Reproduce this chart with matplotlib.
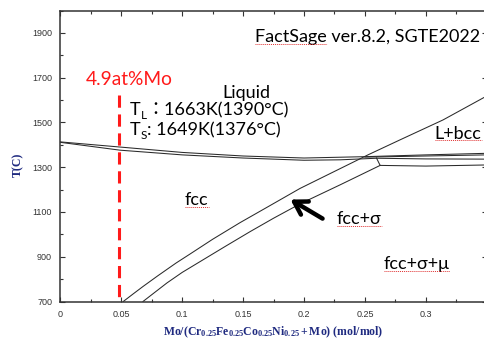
import matplotlib
matplotlib.use("Agg")
import matplotlib.pyplot as plt
from matplotlib.ticker import MultipleLocator, FixedLocator
from matplotlib.lines import Line2D

plt.rcParams['mathtext.fontset'] = 'custom'
plt.rcParams['mathtext.rm'] = 'Lato'
plt.rcParams['mathtext.it'] = 'Lato:italic'
plt.rcParams['mathtext.bf'] = 'Liberation Serif:bold'

# ---- data ----
liq_x = [0, 0.049, 0.1, 0.15, 0.2, 0.25, 0.3, 0.35]
liq_T = [1413, 1390, 1366, 1350, 1341, 1347, 1355, 1362]

sol_x = [0, 0.049, 0.1, 0.15, 0.2, 0.23, 0.2596]
sol_T = [1411, 1376, 1355, 1341, 1331, 1333, 1340]

upper_x = [0.0516, 0.06, 0.0678, 0.08, 0.095, 0.1064, 0.125, 0.1474, 0.17, 0.1967, 0.2525, 0.2788, 0.3141, 0.35]
upper_T = [700, 735, 767, 815, 872, 912, 978, 1052, 1122, 1205, 1355, 1422, 1511, 1618]

lower_x = [0.0678, 0.0875, 0.1, 0.1146, 0.135, 0.1557, 0.175, 0.1967, 0.2296, 0.2625]
lower_T = [700, 783, 830, 878, 945, 1012, 1072, 1136, 1221, 1308]

mid_x = [0.2596, 0.30, 0.35]
mid_T = [1340, 1337, 1336]

low3_x = [0.2596, 0.2625, 0.30, 0.35]
low3_T = [1340, 1308, 1305, 1310]

upper2_x = [0.25, 0.30, 0.35]
upper2_T = [1345, 1350, 1355]

mo_x = 0.048
mo_T = [1623, 700]

xticks = [0, 0.05, 0.1, 0.15, 0.2, 0.25, 0.3]
xticklabels = ['0', '0.05', '0.1', '0.15', '0.2', '0.25', '0.3']
yticks = [700, 900, 1100, 1300, 1500, 1700, 1900]
yticklabels = ['700', '900', '1100', '1300', '1500', '1700', '1900']

fig = plt.figure(figsize=(4.84, 3.40), dpi=100)
ax = fig.add_axes([60.4/484, 1-301.5/340, (486.7-60.4)/484, 291/340])

lc = '#2a2a2a'
for xs, ts in [(liq_x, liq_T), (sol_x, sol_T), (upper_x, upper_T), (lower_x, lower_T),
               (mid_x, mid_T), (low3_x, low3_T), (upper2_x, upper2_T)]:
    ax.plot(xs, ts, color=lc, lw=0.75)

ax.plot([mo_x, mo_x], mo_T, color='#ff1a1a', lw=2.2, dashes=(4.0, 2.2), clip_on=False)

ax.set_xlim(0, 0.35)
ax.set_ylim(700, 2000)
ax.xaxis.set_major_locator(FixedLocator(xticks))
ax.set_xticklabels(xticklabels)
ax.yaxis.set_major_locator(FixedLocator(yticks))
ax.set_yticklabels(yticklabels)
ax.xaxis.set_minor_locator(MultipleLocator(0.025))
ax.yaxis.set_minor_locator(MultipleLocator(100))
ax.tick_params(which='both', direction='in', top=True, right=True, color='#333333',
               labelsize=6.5, labelcolor='#333333', pad=6)
ax.tick_params(which='major', length=3.5, width=0.8)
ax.tick_params(which='minor', length=2.5, width=0.8)
for lab in ax.get_xticklabels() + ax.get_yticklabels():
    lab.set_family('Liberation Sans')
for s in ax.spines.values():
    s.set_color('#333333')
    s.set_linewidth(1.1)

navy = '#1f2a80'
fig.text(273/484, 1-332/340, r'$\mathbf{Mo/(Cr_{0.25}Fe_{0.25}Co_{0.25}Ni_{0.25}+Mo)\ (mol/mol)}$',
         color=navy, fontsize=8.5, ha='center', va='center')
fig.text(18/484, 1-165/340, 'T(C)', family='Liberation Serif', weight='bold', color=navy,
         fontsize=8.5, rotation=90, ha='center', va='center')

fam = ['Lato', 'Noto Sans CJK JP']
FS = 13
ax.text(0.021, 1667, '4.9at%Mo', color='#ff1a1a', fontsize=13.8, family=fam, va='baseline')
ax.text(0.1327, 1609, 'Liquid', color='black', fontsize=FS, family=fam, va='baseline')
t_fs = ax.text(0.1597, 1859, 'FactSage ver.8.2, SGTE2022', color='black', fontsize=FS, family=fam, va='baseline')
t_fs_word = ax.text(0.1597, 1859, 'FactSage', color='none', fontsize=FS, family=fam, va='baseline')
t_lb = ax.text(0.3459, 1426, 'L+bcc', color='black', fontsize=FS, family=fam, va='baseline', ha='right')
t_f1 = ax.text(0.1023, 1131, 'fcc', color='black', fontsize=FS, family=fam, va='baseline')
t_f2 = ax.text(0.2271, 1046, 'fcc+σ', color='black', fontsize=FS, family=fam, va='baseline')
t_f3 = ax.text(0.2657, 845, 'fcc+σ+μ', color='black', fontsize=FS, family=fam, va='baseline')


def chained(x, y, parts):
    prev = None
    for txt, size, dy in parts:
        if prev is None:
            prev = ax.text(x, y, txt, fontsize=size, family=fam, va='bottom')
        else:
            prev = ax.annotate(txt, xy=(1, 0), xycoords=prev, xytext=(0, dy),
                               textcoords='offset points', fontsize=size, family=fam,
                               va='bottom', ha='left')
    return prev

chained(0.0571, 1519, [('T', FS, 0), ('L', 8.5, -2), ('：1663K(1390°C)', FS, 2)])
chained(0.0571, 1430, [('T', FS, 0), ('S', 8.5, -2), (': 1649K(1376°C)', FS, 2)])

ax.annotate('', xy=(0.1869, 1162), xytext=(0.2172, 1064),
            arrowprops=dict(arrowstyle='->,head_length=0.9,head_width=0.55', lw=3.2, color='black'))

# red spell-check style underlines beneath some labels
fig.canvas.draw()
r = fig.canvas.get_renderer()
for t in [t_fs_word, t_lb, t_f1, t_f2, t_f3]:
    bb = t.get_window_extent(r)
    y = bb.y0 + 1.5
    fig.add_artist(Line2D([bb.x0 / 484, bb.x1 / 484], [y / 340, y / 340], color='#e03030',
                          lw=0.7, ls=(0, (1, 1))))
t_fs_word.remove()

fig.savefig('out.png', dpi=100)
